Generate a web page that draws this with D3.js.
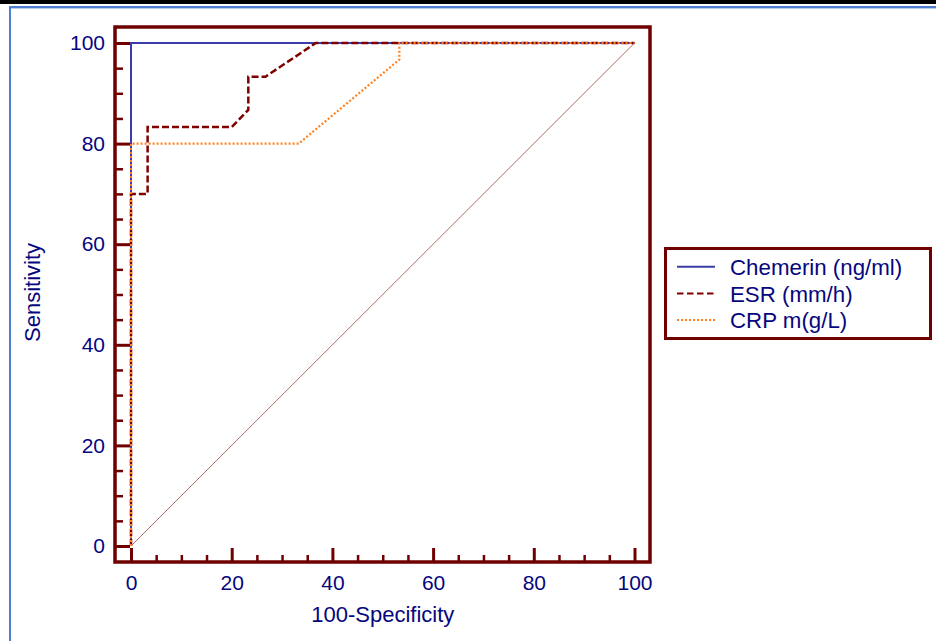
<!DOCTYPE html>
<html>
<head>
<meta charset="utf-8">
<script src="https://cdn.jsdelivr.net/npm/d3@7"></script>
<style>
  html, body { margin: 0; padding: 0; background: #ffffff; }
  svg { display: block; }
  text { font-family: Arial, "Liberation Sans", sans-serif; }
</style>
</head>
<body>
<svg id="chart" width="936" height="641"></svg>
<script>
// ---- data ----
const majorTicks = [0, 20, 40, 60, 80, 100];
const minorTicks = [5, 10, 15, 25, 30, 35, 45, 50, 55, 65, 70, 75, 85, 90, 95];

const seriesNames = ["Chemerin (ng/ml)", "ESR (mm/h)", "CRP m(g/L)"];

const chemerinX = [0, 0, 100];
const chemerinY = [0, 100, 100];

const esrX = [0, 0, 3.3, 3.3, 20, 23.3, 23.3, 26.7, 36.7, 100];
const esrY = [0, 70, 70, 83.3, 83.3, 86.7, 93.3, 93.3, 100, 100];

const crpX = [0, 0, 33.3, 53.3, 53.3, 100];
const crpY = [0, 80, 80, 96.7, 100, 100];

const diagX = [0, 100];
const diagY = [0, 100];

// ---- styles ----
const frameColor = "#700000";
const textColor = "#06067e";
const seriesStyles = [
  { color: "#3c3ca8", width: 2, dash: null },
  { color: "#800000", width: 2.5, dash: "7,3" },
  { color: "#ff8020", width: 2.2, dash: "2,2" }
];

const svg = d3.select("#chart");

// outer window decoration
svg.append("rect").attr("x", 0).attr("y", 0).attr("width", 936).attr("height", 4).attr("fill", "#000");
svg.append("rect").attr("x", 9).attr("y", 6).attr("width", 927).attr("height", 2).attr("fill", "#4f7fd0");
svg.append("rect").attr("x", 9).attr("y", 8).attr("width", 927).attr("height", 1).attr("fill", "#b8cdf0");
svg.append("rect").attr("x", 9).attr("y", 6).attr("width", 2).attr("height", 635).attr("fill", "#4f7fd0");

// plot frame bounds
const frame = { left: 115, right: 650, top: 27, bottom: 562 };

const x = d3.scaleLinear().domain([0, 100]).range([131, 634.5]);
const y = d3.scaleLinear().domain([0, 100]).range([546, 43]);

// diagonal reference
const line = d3.line().x(d => x(d[0])).y(d => y(d[1]));
svg.append("path")
  .datum(diagX.map((v, i) => [v, diagY[i]]))
  .attr("d", line)
  .attr("fill", "none")
  .attr("stroke", "#b06a6a")
  .attr("stroke-width", 1);

// series
const series = [
  chemerinX.map((v, i) => [v, chemerinY[i]]),
  esrX.map((v, i) => [v, esrY[i]]),
  crpX.map((v, i) => [v, crpY[i]])
];
series.forEach((pts, i) => {
  const s = seriesStyles[i];
  svg.append("path")
    .datum(pts)
    .attr("d", line)
    .attr("fill", "none")
    .attr("stroke", s.color)
    .attr("stroke-width", s.width)
    .attr("stroke-dasharray", s.dash);
});

// axes - Y
const yMajor = svg.append("g").attr("transform", `translate(${frame.left},0)`)
  .call(d3.axisLeft(y).tickValues(majorTicks).tickSizeInner(-15).tickSizeOuter(0).tickPadding(10));
const yMinor = svg.append("g").attr("transform", `translate(${frame.left},0)`)
  .call(d3.axisLeft(y).tickValues(minorTicks).tickSizeInner(-8).tickSizeOuter(0).tickFormat(""));

// axes - X
const xMajor = svg.append("g").attr("transform", `translate(0,${frame.bottom})`)
  .call(d3.axisBottom(x).tickValues(majorTicks).tickSizeInner(-14).tickSizeOuter(0).tickPadding(13));
const xMinor = svg.append("g").attr("transform", `translate(0,${frame.bottom})`)
  .call(d3.axisBottom(x).tickValues(minorTicks).tickSizeInner(-7).tickSizeOuter(0).tickFormat(""));

[yMajor, yMinor, xMajor, xMinor].forEach(g => {
  g.select(".domain").remove();
  g.selectAll(".tick line").attr("stroke", frameColor).attr("stroke-width", 3);
  g.selectAll(".tick text").attr("fill", textColor).attr("font-size", 21)
    .attr("font-family", "Arial, 'Liberation Sans', sans-serif");
});
[yMinor, xMinor].forEach(g => g.selectAll(".tick line").attr("stroke-width", 2.5));

// frame
svg.append("rect")
  .attr("x", frame.left).attr("y", frame.top)
  .attr("width", frame.right - frame.left).attr("height", frame.bottom - frame.top)
  .attr("fill", "none").attr("stroke", frameColor).attr("stroke-width", 3.5);

// axis titles
svg.append("text")
  .attr("x", (x(0) + x(100)) / 2).attr("y", 622)
  .attr("text-anchor", "middle").attr("fill", textColor).attr("font-size", 22)
  .text("100-Specificity");
svg.append("text")
  .attr("transform", `translate(40,${292.5}) rotate(-90)`)
  .attr("text-anchor", "middle").attr("fill", textColor).attr("font-size", 22)
  .text("Sensitivity");

// legend
const legend = svg.append("g");
legend.append("rect")
  .attr("x", 665.5).attr("y", 248.5).attr("width", 265).attr("height", 90)
  .attr("fill", "#fff").attr("stroke", frameColor).attr("stroke-width", 3);
seriesNames.forEach((name, i) => {
  const s = seriesStyles[i];
  const cy = 266.7 + i * 26.7;
  legend.append("line")
    .attr("x1", 677).attr("x2", 715).attr("y1", cy).attr("y2", cy)
    .attr("stroke", s.color).attr("stroke-width", 2)
    .attr("stroke-dasharray", s.dash ? (i === 1 ? "6.5,3.5" : "2,2") : null);
  legend.append("text")
    .attr("x", 730).attr("y", cy + 8.3)
    .attr("fill", textColor).attr("font-size", 22.3)
    .text(name);
});
</script>
</body>
</html>
